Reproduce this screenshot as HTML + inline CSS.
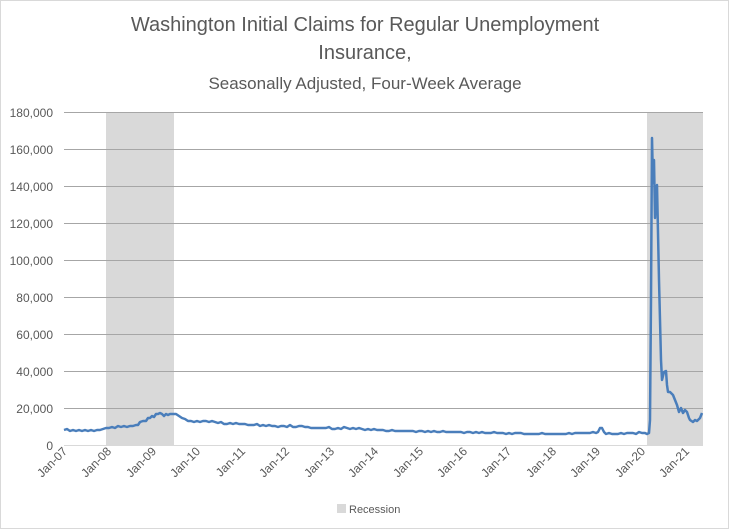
<!DOCTYPE html>
<html><head><meta charset="utf-8"><style>
body{margin:0;background:#fff}
svg{display:block;font-family:"Liberation Sans",sans-serif}
</style></head><body>
<svg width="730" height="530" viewBox="0 0 730 530">
<rect x="0.5" y="0.5" width="728" height="528" fill="#fff" stroke="#d9d9d9"/>
<text x="365" y="31" text-anchor="middle" font-size="20" fill="#595959">Washington Initial Claims for Regular Unemployment</text>
<text x="365" y="59" text-anchor="middle" font-size="20" fill="#595959">Insurance,</text>
<text x="365" y="89" text-anchor="middle" font-size="17" fill="#595959">Seasonally Adjusted, Four-Week Average</text>
<rect x="106" y="112" width="68" height="333" fill="#d9d9d9"/>
<rect x="647" y="112" width="56" height="333" fill="#d9d9d9"/>
<g stroke="#a6a6a6" stroke-width="1">
<line x1="64" x2="703" y1="112.5" y2="112.5"/><line x1="64" x2="703" y1="149.5" y2="149.5"/>
<line x1="64" x2="703" y1="186.5" y2="186.5"/><line x1="64" x2="703" y1="223.5" y2="223.5"/>
<line x1="64" x2="703" y1="260.5" y2="260.5"/><line x1="64" x2="703" y1="297.5" y2="297.5"/>
<line x1="64" x2="703" y1="334.5" y2="334.5"/><line x1="64" x2="703" y1="371.5" y2="371.5"/>
<line x1="64" x2="703" y1="408.5" y2="408.5"/>
</g>
<line x1="64" x2="703" y1="445.5" y2="445.5" stroke="#d9d9d9"/>
<g font-size="12" fill="#595959" text-anchor="end">
<text x="53" y="117">180,000</text><text x="53" y="154">160,000</text><text x="53" y="191">140,000</text>
<text x="53" y="228">120,000</text><text x="53" y="265">100,000</text><text x="53" y="302">80,000</text>
<text x="53" y="339">60,000</text><text x="53" y="376">40,000</text><text x="53" y="413">20,000</text>
<text x="53" y="450">0</text>
</g>
<polyline fill="none" stroke="#4a7ebb" stroke-width="2.5" stroke-linejoin="round" points="
64,430 67,429 70,431 73,430 76,431 79,430 82,431 85,430 88,431 91,430 94,431 97,430 100,430 103,429 106,428 109,428 112,427 115,428 118,426 121,427 124,426 127,427 130,426 133,426 136,425 138,425 140,422 143,421 146,421 148,418 150,418 152,416 154,417 156,414 158,414 160,413 162,414 164,416 166,414 168,415 170,414 173,414 176,414 179,416 182,418 185,419 188,421 191,421 194,422 197,421 200,422 203,421 206,421 209,422 212,421 215,422 218,423 221,422 224,424 227,424 230,423 233,424 236,423 239,424 242,424 245,424 248,425 251,425 254,425 257,424 260,426 263,425 266,426 269,425 272,426 275,426 278,427 281,426 284,426 287,427 290,425 293,427 296,427 299,426 302,426 305,427 308,427 311,428 314,428 317,428 320,428 323,428 326,428 329,427 332,429 335,429 338,428 341,429 344,427 347,428 350,429 353,428 356,429 359,428 362,429 365,430 368,429 371,430 374,429 377,430 380,430 383,430 386,431 389,431 392,430 395,431 398,431 401,431 404,431 407,431 410,431 413,431 416,432 419,431 422,431 425,432 428,431 431,432 434,431 437,432 440,432 443,431 446,432 449,432 452,432 455,432 458,432 461,432 464,433 467,432 470,432 473,433 476,432 479,433 482,432 485,433 488,433 491,433 494,432 497,433 500,433 503,433 506,434 509,433 512,434 515,433 518,433 521,433 524,434 527,434 530,434 533,434 536,434 539,434 542,433 545,434 548,434 551,434 554,434 557,434 560,434 563,434 566,434 569,433 572,434 575,433 578,433 581,433 584,433 587,433 590,433 593,432 596,433 598,432 600,428 602,428 604,432 606,434 609,433 612,434 615,434 618,434 621,433 624,434 627,433 630,433 633,433 636,434 639,432 642,433 645,433 647,434 649,433 650,420 651,300 652,138 653,183 654,160 655,218 656,190 657,185 659,280 661,360 662,380 664,372 666,371 667,385 668,392 670,392 672,394 673,395 675,400 677,405 679,412 681,408 683,413 685,410 687,412 689,418 690,420 693,422 695,420 697,421 700,418 702,413"/>
<g font-size="12" fill="#595959" text-anchor="end">
<text transform="translate(68,452) rotate(-45)">Jan-07</text>
<text transform="translate(112,452) rotate(-45)">Jan-08</text>
<text transform="translate(157,452) rotate(-45)">Jan-09</text>
<text transform="translate(201,452) rotate(-45)">Jan-10</text>
<text transform="translate(246,452) rotate(-45)">Jan-11</text>
<text transform="translate(290,452) rotate(-45)">Jan-12</text>
<text transform="translate(335,452) rotate(-45)">Jan-13</text>
<text transform="translate(379,452) rotate(-45)">Jan-14</text>
<text transform="translate(424,452) rotate(-45)">Jan-15</text>
<text transform="translate(468,452) rotate(-45)">Jan-16</text>
<text transform="translate(512,452) rotate(-45)">Jan-17</text>
<text transform="translate(557,452) rotate(-45)">Jan-18</text>
<text transform="translate(601,452) rotate(-45)">Jan-19</text>
<text transform="translate(646,452) rotate(-45)">Jan-20</text>
<text transform="translate(690,452) rotate(-45)">Jan-21</text>
</g>
<rect x="337" y="504" width="9" height="9" fill="#d9d9d9"/>
<text x="349" y="513" font-size="11" fill="#595959">Recession</text>
</svg>
</body></html>
